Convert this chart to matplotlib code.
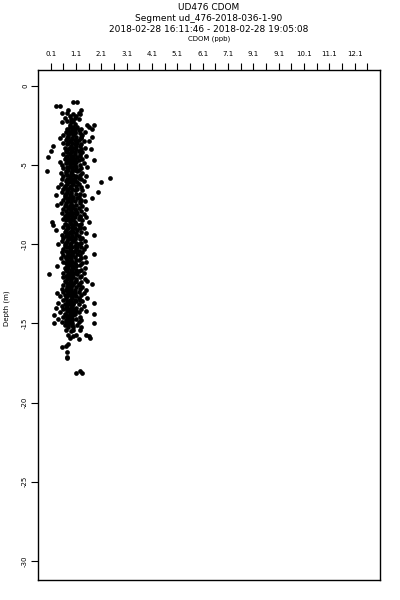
import matplotlib
matplotlib.use('Agg')
import matplotlib.pyplot as plt
import numpy as np

# UD476 CDOM profile
title_lines = ['UD476 CDOM', 'Segment ud_476-2018-036-1-90',
               '2018-02-28 16:11:46 - 2018-02-28 19:05:08']
xlabel = 'CDOM (ppb)'
ylabel = 'Depth (m)'

x_tick_pos = [0.1, 1.1, 2.1, 3.1, 4.1, 5.1, 6.1, 7.1, 8.1, 9.1, 10.1, 11.1, 12.1]
x_tick_labels = ['0.1', '1.1', '2.1', '3.1', '4.1', '5.1', '6.1', '7.1',
                 '9.1', '9.1', '10.1', '11.1', '12.1']
x_minor_pos = [0.6, 1.6, 2.6, 3.6, 4.6, 5.6, 6.6, 7.6, 8.6, 9.6, 10.6, 11.6, 12.6]
y_ticks = [0, -5, -10, -15, -20, -25, -30]

# one depth per row, the CDOM samples seen at that depth
row_depth = [
    -1.0, -1.3, -1.5, -1.7, -1.8, -1.9, -2.0, -2.1, -2.2, -2.3, -2.4, -2.5,
    -2.6, -2.7, -2.8, -2.9, -3.0, -3.1, -3.2, -3.3, -3.4, -3.5, -3.6, -3.7,
    -3.8, -3.9, -4.0, -4.1, -4.2, -4.3, -4.4, -4.5, -4.6, -4.7, -4.8, -4.9,
    -5.0, -5.1, -5.2, -5.3, -5.4, -5.5, -5.6, -5.7, -5.8, -5.9, -6.0, -6.1,
    -6.2, -6.3, -6.4, -6.5, -6.6, -6.7, -6.8, -6.9, -7.0, -7.1, -7.2, -7.3,
    -7.4, -7.5, -7.6, -7.7, -7.8, -7.9, -8.0, -8.1, -8.2, -8.3, -8.4, -8.5,
    -8.6, -8.7, -8.8, -8.9, -9.0, -9.1, -9.2, -9.3, -9.4, -9.5, -9.6, -9.7,
    -9.8, -9.9, -10.0, -10.1, -10.2, -10.3, -10.4, -10.5, -10.6, -10.7, -10.8, -10.9,
    -11.0, -11.1, -11.2, -11.3, -11.4, -11.5, -11.6, -11.7, -11.8, -11.9, -12.0, -12.1,
    -12.2, -12.3, -12.4, -12.5, -12.6, -12.7, -12.8, -12.9, -13.0, -13.1, -13.2, -13.3,
    -13.4, -13.5, -13.6, -13.7, -13.8, -13.9, -14.0, -14.1, -14.2, -14.3, -14.4, -14.5,
    -14.6, -14.7, -14.8, -14.9, -15.0, -15.1, -15.2, -15.4, -15.5, -15.7, -15.8, -15.9,
    -16.0, -16.3, -16.4, -16.5, -16.8, -17.1, -17.2, -18.0, -18.1,
]
row_cdom = [
    [1.0, 1.15], [0.3, 0.45], [0.8, 1.3], [0.55, 0.75, 1.2], [1.0, 1.25], [0.85, 1.1],
    [0.65, 1.05], [0.9, 1.2], [0.75, 1.0], [0.55, 0.9], [1.05], [0.85, 1.55, 1.8],
    [0.85, 1.0, 1.15, 1.6], [0.75, 1.05, 1.3, 1.75], [0.8, 0.95, 1.2], [0.7, 0.9, 1.05, 1.45],
    [0.85, 1.05, 1.25], [0.6, 0.8, 1.0, 1.35], [0.8, 1.1, 1.3, 1.75], [0.45, 0.75, 0.95, 1.3],
    [0.7, 0.9, 1.05, 1.2], [0.85, 1.1, 1.4, 1.6], [0.6, 0.8, 0.95, 1.15], [0.75, 1.05, 1.3],
    [0.2, 0.9, 1.1, 1.25], [0.65, 0.85, 1.0, 1.45], [0.8, 1.1, 1.3, 1.7], [0.1, 0.7, 0.95, 1.2],
    [0.75, 0.9, 1.05, 1.35], [0.6, 0.85, 1.05, 1.25], [0.75, 1.0, 1.25, 1.5], [0.0, 0.7, 0.9, 1.15],
    [0.65, 0.85, 1.05, 1.35], [0.8, 1.0, 1.2, 1.8], [0.45, 0.75, 0.95, 1.1], [0.7, 0.85, 1.0, 1.4],
    [0.55, 0.85, 1.05, 1.25], [0.75, 0.95, 1.1, 1.55], [0.6, 0.8, 0.95, 1.3], [0.8, 1.05, 1.2],
    [-0.05, 0.7, 0.95, 1.15], [0.5, 0.7, 0.9, 1.35], [0.75, 1.0, 1.25], [0.6, 0.85, 1.1, 1.5],
    [0.85, 1.05, 1.2, 2.45], [0.55, 0.75, 0.95, 1.3], [0.7, 0.9, 1.05, 1.4], [0.8, 0.9, 1.15, 2.1],
    [0.5, 0.75, 1.0, 1.2], [0.65, 0.9, 1.1, 1.55], [0.4, 0.65, 0.85, 1.3], [0.6, 0.8, 0.95, 1.15],
    [0.75, 1.05, 1.35], [0.55, 0.75, 0.9, 1.95], [0.7, 0.9, 1.1, 1.25], [0.3, 0.65, 0.85, 1.4],
    [0.65, 0.85, 1.0, 1.2], [0.75, 0.95, 1.15, 1.75], [0.6, 0.8, 0.95, 1.3], [0.8, 1.05, 1.25, 1.45],
    [0.5, 0.7, 0.9, 1.25], [0.35, 0.7, 0.9, 1.1], [0.65, 0.85, 1.0, 1.35], [0.8, 0.95, 1.2],
    [0.6, 0.85, 1.05, 1.5], [0.7, 0.9, 1.1, 1.3], [0.55, 0.8, 1.0, 1.15], [0.75, 0.9, 1.1, 1.4],
    [0.65, 0.8, 0.95, 1.25], [0.8, 1.05, 1.25, 1.5], [0.6, 0.75, 0.9, 1.2], [0.7, 0.85, 1.0, 1.35],
    [0.15, 0.85, 1.05, 1.6], [0.65, 0.9, 1.1, 1.3], [0.2, 0.75, 1.0, 1.2], [0.6, 0.8, 0.95, 1.25],
    [0.8, 1.05, 1.25, 1.4], [0.3, 0.7, 0.95, 1.15], [0.65, 0.85, 1.0, 1.3], [0.75, 0.9, 1.1, 1.5],
    [0.55, 0.8, 1.1, 1.8], [0.7, 0.95, 1.2], [0.6, 0.85, 1.05, 1.35], [0.8, 0.9, 1.05, 1.25],
    [0.55, 0.75, 1.0, 1.45], [0.7, 0.9, 1.1, 1.3], [0.4, 0.65, 0.85, 1.2], [0.65, 0.85, 1.05, 1.5],
    [0.75, 0.95, 1.15, 1.3], [0.6, 0.85, 1.1, 1.4], [0.7, 0.9, 1.05, 1.2], [0.55, 0.8, 1.0, 1.35],
    [0.8, 0.95, 1.15, 1.8], [0.6, 0.8, 0.95, 1.25], [0.7, 0.85, 1.05, 1.45], [0.5, 0.7, 0.9, 1.3],
    [0.75, 0.9, 1.1, 1.2], [0.6, 0.8, 0.95, 1.5], [0.7, 0.85, 1.05, 1.35], [0.8, 0.9, 1.1, 1.25],
    [0.35, 0.75, 0.95, 1.1], [0.65, 0.8, 1.0, 1.45], [0.7, 0.9, 1.1, 1.3], [0.75, 0.95, 1.2],
    [0.6, 0.85, 1.05, 1.4], [0.05, 0.8, 0.95, 1.15], [0.7, 0.85, 0.95, 1.3], [0.6, 0.8, 1.0, 1.25],
    [0.75, 0.9, 1.1, 1.45], [0.65, 0.9, 1.1, 1.55], [0.7, 0.85, 1.05, 1.3], [0.8, 1.0, 1.2, 1.75],
    [0.6, 0.8, 0.95, 1.2], [0.75, 0.9, 1.1, 1.35], [0.55, 0.75, 0.9, 1.25], [0.7, 0.85, 1.05, 1.5],
    [0.6, 0.8, 0.95, 1.2], [0.35, 0.8, 1.05, 1.4], [0.65, 0.85, 1.0, 1.3], [0.45, 0.75, 0.95, 1.1],
    [0.7, 0.95, 1.2, 1.55], [0.6, 0.85, 1.05, 1.25], [0.75, 0.9, 1.1, 1.35], [0.4, 0.8, 1.0, 1.8],
    [0.65, 0.85, 1.0, 1.2], [0.55, 0.75, 0.95, 1.4], [0.3, 0.7, 0.9, 1.1], [0.6, 0.8, 1.0, 1.3],
    [0.75, 0.9, 1.1, 1.5], [0.45, 0.85, 1.0, 1.2], [0.65, 0.85, 1.05, 1.8], [0.25, 0.7, 0.85, 1.0],
    [0.6, 0.75, 0.9, 1.25], [0.4, 0.8, 0.95, 1.1], [0.7, 0.85, 0.95, 1.3], [0.55, 0.7, 0.85, 1.2],
    [0.25, 0.75, 0.95, 1.8], [0.65, 0.8, 0.95, 1.15], [0.8, 1.0, 1.3], [0.7, 1.0, 1.25],
    [0.9], [0.8, 1.1, 1.5], [1.0, 1.6], [0.85, 1.65],
    [1.2], [0.8], [0.7], [0.55], [0.75], [0.75], [0.75], [1.25], [1.1, 1.35],
]

depth = []
cdom = []
for d, vals in zip(row_depth, row_cdom):
    for v in vals:
        depth.append(d)
        cdom.append(v)

fig = plt.figure(figsize=(4, 6), dpi=100)
ax = fig.add_axes([38 / 400, 1 - 580 / 600, 342 / 400, 510 / 600])

ax.plot(cdom, depth, 'o', color='black', markersize=3.4, markeredgewidth=0)

ax.set_xlim(-0.4, 13.1)
ax.set_ylim(-31.2, 1.0)

ax.xaxis.set_ticks_position('top')
ax.set_xticks(x_tick_pos)
ax.set_xticklabels(x_tick_labels, fontsize=5)
ax.set_xticks(x_minor_pos, minor=True)

ax.set_yticks(y_ticks)
ax.set_yticklabels([str(v) for v in y_ticks], rotation=90, va='center', fontsize=5)
ax.tick_params(axis='both', which='both', direction='out', length=5.2, width=0.8)
ax.tick_params(axis='x', pad=4)
ax.tick_params(axis='y', pad=2)

for s in ax.spines.values():
    s.set_linewidth(1.0)

fig.text(209 / 400, 1 - 7 / 600, title_lines[0], ha='center', va='center', fontsize=6.5)
fig.text(209 / 400, 1 - 18.5 / 600, title_lines[1], ha='center', va='center', fontsize=6.5)
fig.text(209 / 400, 1 - 29.5 / 600, title_lines[2], ha='center', va='center', fontsize=6.5)
fig.text(209 / 400, 1 - 38.5 / 600, xlabel, ha='center', va='center', fontsize=5)
fig.text(7 / 400, 1 - 308 / 600, ylabel, ha='center', va='center', rotation=90, fontsize=5)

fig.savefig('out.png', dpi=100)
